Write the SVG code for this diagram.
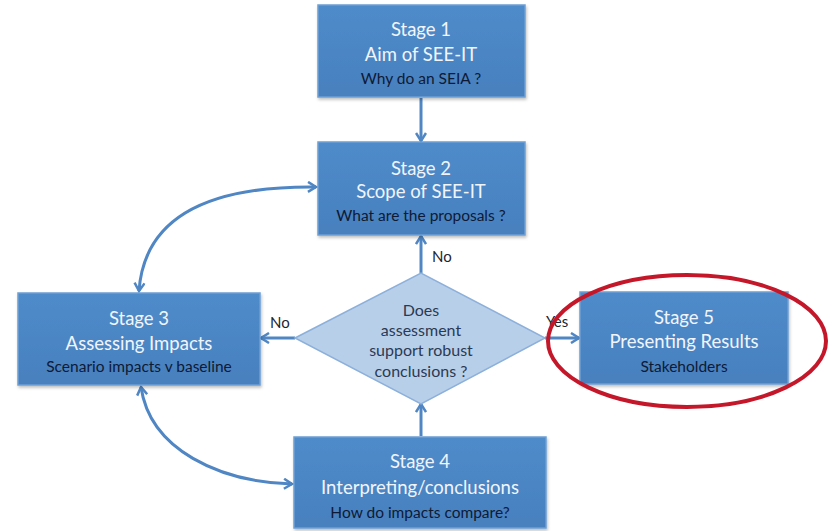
<svg xmlns="http://www.w3.org/2000/svg" width="828" height="531" viewBox="0 0 828 531">
<style>
.box{fill:url(#bg);stroke:#6d9fd5;stroke-width:1.5}
.t{font-family:Lato,"Open Sans",sans-serif;text-anchor:middle;fill:#f1f5fb;font-size:18.5px}
.s{font-family:Lato,"Open Sans",sans-serif;text-anchor:middle;fill:#0e1a35;font-size:15.5px}
.d{font-family:Lato,"Open Sans",sans-serif;text-anchor:middle;fill:#2b3a52;font-size:16px}
.l{font-family:Lato,"Open Sans",sans-serif;fill:#1d2430;font-size:15px}
.c{fill:none;stroke:#4f86c3;stroke-width:3}
</style>
<defs>
<linearGradient id="bg" x1="0" y1="0" x2="0" y2="1">
<stop offset="0" stop-color="#4f8bca"/>
<stop offset="1" stop-color="#4880be"/>
</linearGradient>
<filter id="sh" x="-10%" y="-10%" width="120%" height="130%">
<feDropShadow dx="1" dy="2" stdDeviation="1.5" flood-color="#000" flood-opacity="0.25"/>
</filter>
<marker id="ah" viewBox="0 0 12 12" refX="10" refY="6" markerWidth="12" markerHeight="12" markerUnits="userSpaceOnUse" orient="auto-start-reverse">
<polyline points="2,1 10,6 2,11" fill="none" stroke="#4f86c3" stroke-width="2.5"/>
</marker>
</defs>
<rect width="828" height="531" fill="#fff"/>
<g id="connectors">
<line class="c" x1="421" y1="98" x2="421" y2="141" marker-end="url(#ah)"/>
<line class="c" x1="421" y1="273" x2="421" y2="236" marker-end="url(#ah)"/>
<line class="c" x1="295" y1="338" x2="261" y2="338" marker-end="url(#ah)"/>
<line class="c" x1="545" y1="338" x2="579" y2="338" marker-end="url(#ah)"/>
<line class="c" x1="421" y1="436" x2="421" y2="404" marker-end="url(#ah)"/>
<path class="c" d="M139,291 C145,205 230,186 316,187" marker-start="url(#ah)" marker-end="url(#ah)"/>
<path class="c" d="M141,387 C150,450 220,482 292,484" marker-start="url(#ah)" marker-end="url(#ah)"/>
<text class="l" x="432" y="262">No</text>
<text class="l" x="270" y="328">No</text>
<text class="l" x="546" y="327">Yes</text>
</g>
<g id="stage1">
<rect class="box" x="318" y="5" width="207" height="92" filter="url(#sh)"/>
<text class="t" x="421" y="36">Stage 1</text>
<text class="t" x="421" y="61">Aim of SEE-IT</text>
<text class="s" x="421" y="84">Why do an SEIA ?</text>
</g>
<g id="stage2">
<rect class="box" x="318" y="142" width="207" height="93" filter="url(#sh)"/>
<text class="t" x="421" y="175">Stage 2</text>
<text class="t" x="421" y="198">Scope of SEE-IT</text>
<text class="s" x="421" y="221">What are the proposals ?</text>
</g>
<g id="stage3">
<rect class="box" x="18" y="293" width="242" height="92" filter="url(#sh)"/>
<text class="t" x="139" y="325">Stage 3</text>
<text class="t" x="139" y="350">Assessing Impacts</text>
<text class="s" x="139" y="372">Scenario impacts v baseline</text>
</g>
<g id="decision">
<polygon points="295,338 421,273 545,338 421,404" fill="#b8cfea" stroke="#8cb0da" stroke-width="1.5"/>
<text class="d" x="421" y="316">Does</text>
<text class="d" x="421" y="336">assessment</text>
<text class="d" x="421" y="356">support robust</text>
<text class="d" x="421" y="377">conclusions ?</text>
</g>
<g id="stage4">
<rect class="box" x="294" y="437" width="252" height="91" filter="url(#sh)"/>
<text class="t" x="420" y="468">Stage 4</text>
<text class="t" x="420" y="494">Interpreting/conclusions</text>
<text class="s" x="420" y="518">How do impacts compare?</text>
</g>
<g id="stage5">
<rect class="box" x="580" y="292" width="208" height="92" filter="url(#sh)"/>
<text class="t" x="684" y="324">Stage 5</text>
<text class="t" x="684" y="348">Presenting Results</text>
<text class="s" x="684" y="372">Stakeholders</text>
</g>
<ellipse id="highlight" cx="687" cy="341" rx="139" ry="66" fill="none" stroke="#c4182a" stroke-width="4"/>
</svg>
